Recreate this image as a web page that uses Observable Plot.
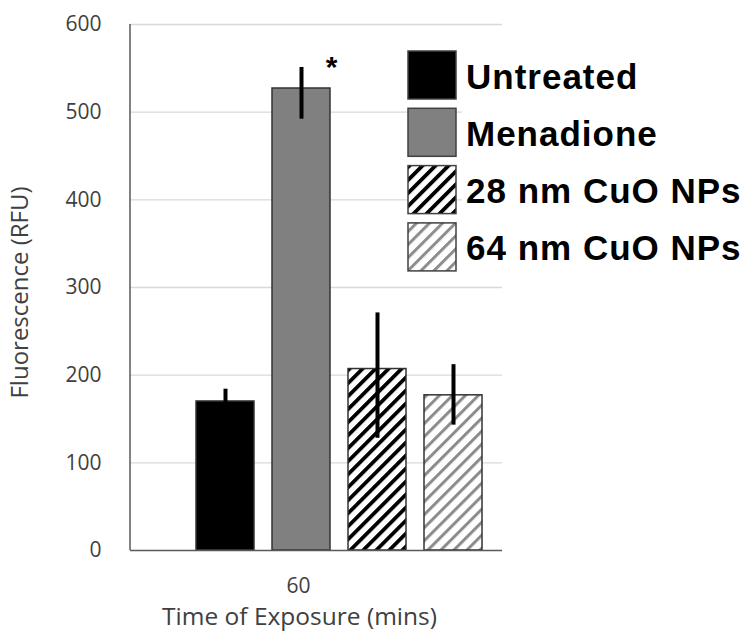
<!DOCTYPE html>
<html>
<head>
<meta charset="utf-8">
<script src="https://cdn.jsdelivr.net/npm/d3@7"></script>
<script src="https://cdn.jsdelivr.net/npm/@observablehq/plot@0.6"></script>
<style>
  html, body { margin: 0; padding: 0; background: #fff; }
  #chart { width: 748px; height: 633px; }
</style>
</head>
<body>
<div id="chart"></div>
<script>
// ---- data ----
const categories = ["Untreated", "Menadione", "28 nm CuO NPs", "64 nm CuO NPs"];
const values = [170, 527, 207, 177];
const errLow = [156, 492, 128, 143];
const errHigh = [184, 551, 271, 212];
const yTicks = [0, 100, 200, 300, 400, 500, 600];
const xTickLabel = "60";
const xTitle = "Time of Exposure (mins)";
const yTitle = "Fluorescence (RFU)";
const sigMark = "*";
const sigCategory = "Menadione";

// ---- styles ----
const fills = ["#000000", "#808080", "url(#hatch28)", "url(#hatch64)"];

const data = categories.map((c, i) => ({cat: c, value: values[i], lo: errLow[i], hi: errHigh[i]}));
const sig = data.filter(d => d.cat === sigCategory);

const chart = Plot.plot({
  width: 748,
  height: 633,
  marginLeft: 130,
  marginRight: 246,
  marginTop: 24,
  marginBottom: 83,
  style: {fontFamily: "'Open Sans', sans-serif", color: "#404040", background: "#fff"},
  x: {domain: categories, paddingInner: 0.24, paddingOuter: 0.55, align: 0.76, axis: null},
  y: {domain: [0, 600], axis: null},
  color: {type: "ordinal", domain: categories, range: fills},
  marks: [
    Plot.gridY(yTicks.filter(t => t > 0), {stroke: "#d9d9d9", strokeOpacity: 1, strokeWidth: 1.3}),
    Plot.axisY(yTicks, {tickSize: 0, tickPadding: 29, fontSize: 21, fill: "#404040", label: null}),
    Plot.barY(data, {x: "cat", y: "value", fill: "cat", stroke: "#333", strokeWidth: 1.5}),
    Plot.ruleX(data, {x: "cat", y1: "lo", y2: "hi", stroke: "#000", strokeWidth: 4}),
    Plot.ruleY([0], {stroke: "#595959", strokeWidth: 1.5}),
    Plot.text(sig, {x: "cat", y: "hi", text: () => sigMark, dx: 30, dy: 0, fontSize: 30, fontWeight: "bold", fontFamily: "'Liberation Sans', Arial, sans-serif", fill: "#000", lineAnchor: "middle"}),
    Plot.text([xTickLabel], {text: d => d, frameAnchor: "bottom", lineAnchor: "middle", textAnchor: "middle", dx: -18, dy: 36, fontSize: 21, fill: "#404040"}),
    Plot.text([xTitle], {text: d => d, frameAnchor: "bottom", lineAnchor: "middle", textAnchor: "middle", dx: -17, dy: 67, fontSize: 24.5, fill: "#404040"}),
    Plot.text([yTitle], {text: d => d, frameAnchor: "left", textAnchor: "middle", lineAnchor: "middle", rotate: -90, dx: -110, dy: 5, fontSize: 24, fill: "#404040"})
  ]
});

const svg = d3.select(chart);
// left axis line
svg.append("line")
  .attr("x1", 130).attr("x2", 130).attr("y1", 24).attr("y2", 550)
  .attr("stroke", "#595959").attr("stroke-width", 1.5);

// patterns
const defs = svg.insert("defs", ":first-child");
const p28 = defs.append("pattern").attr("id", "hatch28").attr("patternUnits", "userSpaceOnUse")
  .attr("width", 9.2).attr("height", 9.2).attr("patternTransform", "rotate(45)");
p28.append("rect").attr("width", 9.2).attr("height", 9.2).attr("fill", "#fff");
p28.append("rect").attr("width", 3.8).attr("height", 9.2).attr("fill", "#000");
const p64 = defs.append("pattern").attr("id", "hatch64").attr("patternUnits", "userSpaceOnUse")
  .attr("width", 9.2).attr("height", 9.2).attr("patternTransform", "rotate(45)");
p64.append("rect").attr("width", 9.2).attr("height", 9.2).attr("fill", "#fff");
p64.append("rect").attr("width", 3).attr("height", 9.2).attr("fill", "#8c8c8c");

// legend
const color = chart.scale("color");
const lg = svg.append("g").attr("text-anchor", "start");
categories.forEach((c, i) => {
  const top = 51 + i * 57.3;
  lg.append("rect").attr("x", 462).attr("y", top - 4).attr("width", 45).attr("height", 56).attr("fill", "#fff");
  lg.append("rect").attr("x", 408).attr("y", top).attr("width", 48).attr("height", 48)
    .attr("fill", color.range[color.domain.indexOf(c)]).attr("stroke", "#404040").attr("stroke-width", 1.5);
  lg.append("text").attr("x", 466).attr("y", top + 37.5).attr("text-anchor", "start")
    .attr("font-family", "'Liberation Sans', Arial, sans-serif").attr("font-weight", "bold")
    .attr("font-size", 35).attr("letter-spacing", 1).attr("fill", "#000").text(c);
});

document.getElementById("chart").appendChild(chart);
</script>
</body>
</html>
